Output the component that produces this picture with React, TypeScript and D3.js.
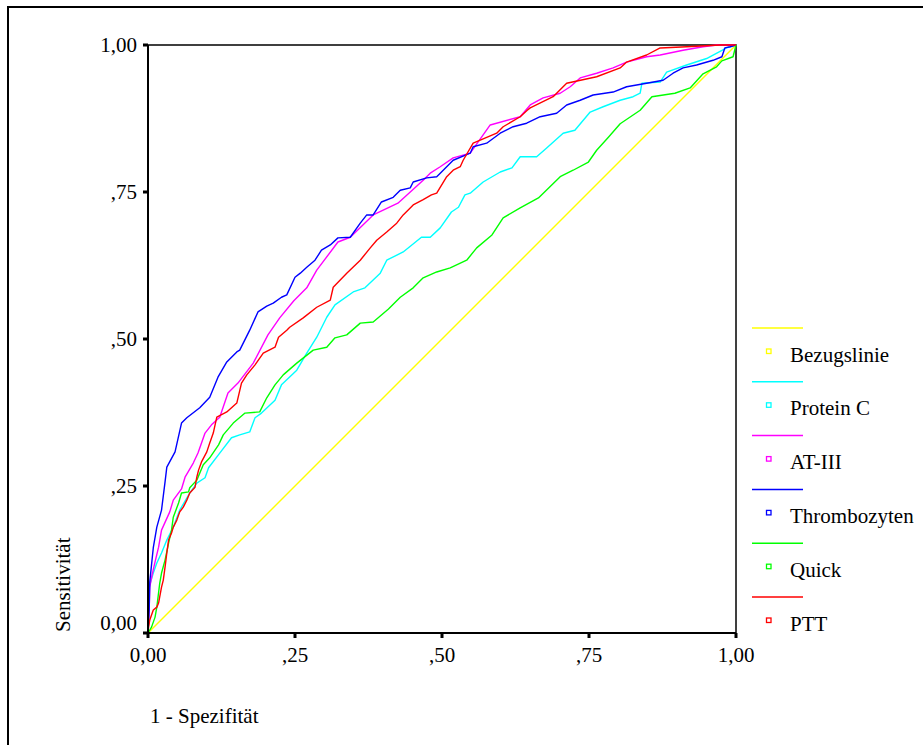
import React from "react";
import * as d3 from "d3";

type Pt = [number, number];

const seriesNames = ["Bezugslinie", "Protein C", "AT-III", "Thrombozyten", "Quick", "PTT"];
const seriesColors = ["#ffff00", "#00ffff", "#ff00ff", "#0000ff", "#00ff00", "#ff0000"];

const bezugslinie: Pt[] = [[0, 0], [1, 1]];

const proteinC: Pt[] = [
  [0, 0], [0.001, 0.056], [0.003, 0.082], [0.009, 0.102], [0.015, 0.119], [0.023, 0.136],
  [0.032, 0.158], [0.043, 0.18], [0.054, 0.209], [0.071, 0.238], [0.083, 0.255], [0.097, 0.264],
  [0.103, 0.281], [0.122, 0.306], [0.142, 0.332], [0.156, 0.337], [0.173, 0.342], [0.182, 0.366],
  [0.193, 0.374], [0.216, 0.396], [0.227, 0.422], [0.253, 0.447], [0.27, 0.476], [0.287, 0.503],
  [0.304, 0.537], [0.318, 0.558], [0.349, 0.58], [0.369, 0.587], [0.395, 0.612], [0.406, 0.634],
  [0.434, 0.648], [0.465, 0.673], [0.48, 0.673], [0.497, 0.689], [0.516, 0.716], [0.528, 0.724],
  [0.539, 0.745], [0.548, 0.748], [0.57, 0.767], [0.599, 0.784], [0.619, 0.791], [0.633, 0.81],
  [0.661, 0.81], [0.678, 0.825], [0.706, 0.85], [0.726, 0.855], [0.752, 0.886], [0.774, 0.895],
  [0.803, 0.906], [0.825, 0.912], [0.837, 0.918], [0.84, 0.935], [0.871, 0.937], [0.882, 0.954],
  [0.916, 0.966], [0.95, 0.977], [0.984, 0.995], [1, 1],
];

const atIII: Pt[] = [
  [0, 0], [0.002, 0.039], [0.003, 0.078], [0.007, 0.099], [0.012, 0.121], [0.018, 0.146],
  [0.023, 0.175], [0.037, 0.206], [0.043, 0.226], [0.057, 0.245], [0.063, 0.265], [0.077, 0.289],
  [0.085, 0.306], [0.097, 0.34], [0.108, 0.354], [0.122, 0.367], [0.136, 0.408], [0.153, 0.425],
  [0.179, 0.459], [0.204, 0.507], [0.224, 0.536], [0.248, 0.565], [0.27, 0.587], [0.287, 0.617],
  [0.323, 0.665], [0.344, 0.673], [0.383, 0.711], [0.425, 0.731], [0.468, 0.77], [0.48, 0.782],
  [0.497, 0.793], [0.519, 0.808], [0.548, 0.816], [0.582, 0.864], [0.633, 0.878], [0.65, 0.898],
  [0.672, 0.91], [0.701, 0.918], [0.718, 0.929], [0.735, 0.944], [0.763, 0.952], [0.791, 0.961],
  [0.814, 0.971], [0.848, 0.98], [0.871, 0.983], [0.91, 0.991], [0.944, 0.997], [0.967, 1], [1, 1],
];

const thrombozyten: Pt[] = [
  [0, 0], [0.002, 0.039], [0.003, 0.087], [0.009, 0.145], [0.015, 0.18], [0.023, 0.209],
  [0.029, 0.257], [0.032, 0.282], [0.046, 0.308], [0.057, 0.357], [0.066, 0.366], [0.088, 0.383],
  [0.105, 0.401], [0.119, 0.435], [0.134, 0.461], [0.151, 0.478], [0.156, 0.481], [0.173, 0.515],
  [0.187, 0.546], [0.202, 0.556], [0.213, 0.561], [0.227, 0.571], [0.236, 0.575], [0.25, 0.605],
  [0.259, 0.612], [0.27, 0.622], [0.284, 0.634], [0.295, 0.651], [0.31, 0.66], [0.323, 0.672],
  [0.344, 0.673], [0.361, 0.697], [0.372, 0.711], [0.383, 0.711], [0.397, 0.733], [0.417, 0.741],
  [0.429, 0.753], [0.446, 0.757], [0.451, 0.767], [0.474, 0.774], [0.491, 0.776], [0.497, 0.782],
  [0.519, 0.804], [0.548, 0.816], [0.553, 0.827], [0.576, 0.833], [0.599, 0.85], [0.621, 0.861],
  [0.644, 0.867], [0.667, 0.878], [0.695, 0.884], [0.712, 0.898], [0.735, 0.906], [0.757, 0.915],
  [0.791, 0.92], [0.814, 0.929], [0.848, 0.935], [0.876, 0.94], [0.893, 0.952], [0.91, 0.961],
  [0.933, 0.966], [0.961, 0.974], [0.976, 0.98], [0.981, 0.995], [0.99, 0.997], [1, 1],
];

const quick: Pt[] = [
  [0, 0], [0.006, 0.01], [0.012, 0.027], [0.015, 0.044], [0.02, 0.085], [0.023, 0.102],
  [0.029, 0.124], [0.035, 0.153], [0.04, 0.175], [0.043, 0.197], [0.052, 0.221], [0.057, 0.238],
  [0.069, 0.24], [0.071, 0.247], [0.083, 0.26], [0.094, 0.286], [0.105, 0.298], [0.12, 0.32],
  [0.128, 0.337], [0.145, 0.357], [0.165, 0.374], [0.19, 0.376], [0.202, 0.4], [0.216, 0.422],
  [0.23, 0.439], [0.253, 0.459], [0.281, 0.481], [0.304, 0.486], [0.318, 0.502], [0.338, 0.507],
  [0.361, 0.527], [0.383, 0.529], [0.409, 0.551], [0.429, 0.571], [0.451, 0.587], [0.468, 0.604],
  [0.491, 0.614], [0.514, 0.621], [0.542, 0.634], [0.559, 0.655], [0.585, 0.677], [0.604, 0.706],
  [0.633, 0.723], [0.664, 0.74], [0.701, 0.776], [0.723, 0.787], [0.749, 0.801], [0.763, 0.821],
  [0.783, 0.843], [0.803, 0.866], [0.837, 0.889], [0.857, 0.912], [0.896, 0.918], [0.922, 0.927],
  [0.944, 0.951], [0.967, 0.963], [0.976, 0.973], [0.995, 0.98], [1, 1],
];

const ptt: Pt[] = [
  [0, 0], [0.001, 0.01], [0.003, 0.022], [0.009, 0.039], [0.015, 0.044], [0.018, 0.051],
  [0.02, 0.062], [0.023, 0.078], [0.026, 0.09], [0.029, 0.112], [0.032, 0.136], [0.035, 0.158],
  [0.04, 0.17], [0.043, 0.18], [0.049, 0.192], [0.054, 0.206], [0.06, 0.214], [0.066, 0.226],
  [0.071, 0.238], [0.08, 0.248], [0.083, 0.265], [0.086, 0.277], [0.091, 0.291], [0.1, 0.308],
  [0.105, 0.323], [0.111, 0.34], [0.117, 0.367], [0.134, 0.376], [0.151, 0.391], [0.159, 0.425],
  [0.168, 0.439], [0.182, 0.456], [0.196, 0.476], [0.216, 0.486], [0.222, 0.503], [0.236, 0.515],
  [0.241, 0.52], [0.264, 0.536], [0.287, 0.554], [0.31, 0.566], [0.315, 0.588], [0.338, 0.612],
  [0.361, 0.634], [0.378, 0.655], [0.389, 0.668], [0.406, 0.682], [0.423, 0.697], [0.434, 0.711],
  [0.451, 0.728], [0.468, 0.737], [0.482, 0.745], [0.491, 0.748], [0.508, 0.776], [0.519, 0.787],
  [0.531, 0.793], [0.536, 0.804], [0.553, 0.833], [0.593, 0.85], [0.604, 0.861], [0.633, 0.878],
  [0.645, 0.889], [0.65, 0.893], [0.689, 0.912], [0.712, 0.935], [0.763, 0.946], [0.803, 0.961],
  [0.814, 0.971], [0.848, 0.983], [0.871, 0.995], [0.916, 0.997], [0.973, 1], [1, 1],
];

const seriesData: Pt[][] = [bezugslinie, proteinC, atIII, thrombozyten, quick, ptt];

const tickValues = [0, 0.25, 0.5, 0.75, 1];
const tickLabels = ["0,00", ",25", ",50", ",75", "1,00"];

const xAxisTitle = "1 - Spezifität";
const yAxisTitle = "Sensitivität";

const W = 923;
const H = 745;
const left = 148, right = 736, top = 45, bottom = 633;
const textStyle = { fontFamily: "'Liberation Serif', 'Times New Roman', Times, serif", fontSize: "21px" };

export default function App() {
  const x = d3.scaleLinear().domain([0, 1]).range([left, right]);
  const y = d3.scaleLinear().domain([0, 1]).range([bottom, top]);
  const line = d3.line<Pt>().x((d) => x(d[0])).y((d) => y(d[1]));

  const legendY0 = 328;
  const legendStep = 53.8;

  return (
    <svg
      width={W}
      height={H}
      style={{ position: "absolute", left: 0, top: 0, background: "#fff" }}
    >
      <rect x={0} y={0} width={W} height={H} fill="#fff" />
      <rect x={8} y={7} width={2000} height={2000} fill="none" stroke="#000" strokeWidth={2} />

      <rect x={left} y={top} width={right - left} height={bottom - top} fill="none" stroke="#000" strokeWidth={1.5} />

      {seriesData.map((d, i) => (
        <path key={i} d={line(d) || ""} fill="none" stroke={seriesColors[i]} strokeWidth={1.4} strokeLinejoin="round" />
      ))}

      <line x1={left} y1={top} x2={left} y2={bottom + 1} stroke="#000" strokeWidth={2} />
      <line x1={left - 1} y1={bottom} x2={right} y2={bottom} stroke="#000" strokeWidth={2} />

      {tickValues.map((v, i) => (
        <g key={"y" + i}>
          <rect x={left - 5} y={y(v) - 1.5} width={5} height={3} fill="#000" />
          <text x={137} y={v === 0 ? 630 : y(v) + 7} textAnchor="end" style={textStyle} fill="#000">
            {tickLabels[i]}
          </text>
        </g>
      ))}

      {tickValues.map((v, i) => (
        <g key={"x" + i}>
          <rect x={x(v) - 1.5} y={bottom} width={3} height={5} fill="#000" />
          <text x={x(v)} y={662} textAnchor="middle" style={textStyle} fill="#000">
            {tickLabels[i]}
          </text>
        </g>
      ))}

      <text x={150} y={723} style={textStyle} fill="#000">
        {xAxisTitle}
      </text>
      <text transform="translate(70,632) rotate(-90)" x={0} y={0} style={textStyle} fill="#000">
        {yAxisTitle}
      </text>

      {seriesNames.map((name, i) => {
        const ly = legendY0 + i * legendStep;
        return (
          <g key={"l" + i}>
            <line x1={752} x2={803} y1={ly} y2={ly} stroke={seriesColors[i]} strokeWidth={1.5} />
            <rect x={766.5} y={ly + 21} width={4.5} height={4.5} fill="none" stroke={seriesColors[i]} strokeWidth={1.3} />
            <text x={790} y={ly + 33.5} style={textStyle} fill="#000">
              {name}
            </text>
          </g>
        );
      })}
    </svg>
  );
}
